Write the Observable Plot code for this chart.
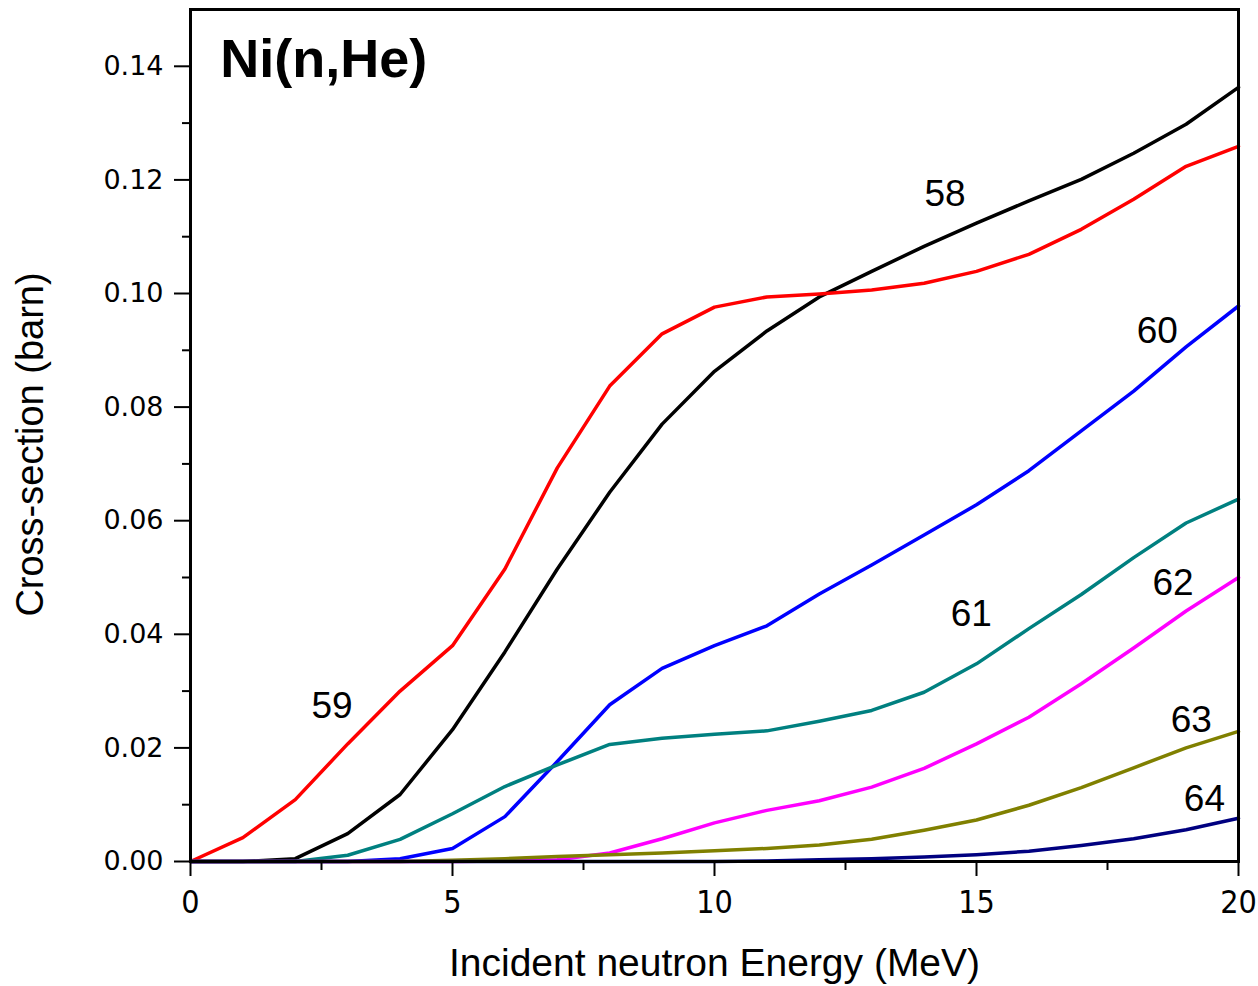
<!DOCTYPE html>
<html>
<head>
<meta charset="utf-8">
<script src="https://cdn.jsdelivr.net/npm/d3@7"></script>
<script src="https://cdn.jsdelivr.net/npm/@observablehq/plot@0.6"></script>
<style>
  html, body { margin: 0; padding: 0; background: #fff; }
  #chart { width: 1258px; height: 986px; }
</style>
</head>
<body>
<div id="chart"></div>
<script>
// ---- data ----
const energy = [0,1,2,3,4,5,6,7,8,9,10,11,12,13,14,15,16,17,18,19,20];
const ni58 = [0,0,0.0005,0.0049,0.0118,0.0232,0.0369,0.0515,0.065,0.077,0.0863,0.0934,0.0994,0.1039,0.1083,0.1124,0.1163,0.1201,0.1247,0.1298,0.1363];
const ni59 = [0,0.0042,0.0109,0.0207,0.030,0.038,0.0515,0.0693,0.0837,0.0929,0.0976,0.0994,0.0999,0.1006,0.1018,0.1039,0.1069,0.1113,0.1166,0.1224,0.1259];
const ni60 = [0,0,0,0,0.0005,0.0023,0.0079,0.0176,0.0276,0.034,0.038,0.0415,0.0471,0.0522,0.0575,0.0628,0.0688,0.0758,0.0828,0.0906,0.0978];
const ni61 = [0,0,0,0.0011,0.0039,0.0084,0.0132,0.017,0.0206,0.0217,0.0224,0.023,0.0247,0.0266,0.0298,0.0348,0.041,0.047,0.0535,0.0596,0.0638];
const ni62 = [0,0,0,0,0,0,0.0001,0.0003,0.0015,0.004,0.0068,0.009,0.0107,0.0131,0.0164,0.0207,0.0254,0.0313,0.0376,0.0441,0.05];
const ni63 = [0,0,0,0,0,0.0002,0.0005,0.0009,0.0012,0.0015,0.0019,0.0023,0.0029,0.0039,0.0055,0.0073,0.0099,0.013,0.0165,0.020,0.0229];
const ni64 = [0,0,0,0,0,0,0,0,0,0,0,0.0001,0.0003,0.0005,0.0008,0.0012,0.0018,0.0028,0.004,0.0056,0.0076];

const seriesNames = ["58","59","60","61","62","63","64"];
const seriesValues = [ni58, ni59, ni60, ni61, ni62, ni63, ni64];
const seriesColors = ["#000000","#ff0000","#0000ff","#008080","#ff00ff","#808000","#000080"];

const labelText = ["58","59","60","61","62","63","64"];
const labelX = [14.4, 2.7, 18.45, 14.9, 18.75, 19.1, 19.35];
const labelY = [0.1175, 0.0274, 0.0934, 0.0436, 0.049, 0.0248, 0.0109];

const yTicks = [0,0.02,0.04,0.06,0.08,0.10,0.12,0.14];
const yMinor = [0.01,0.03,0.05,0.07,0.09,0.11,0.13];
const xTicks = [0,5,10,15,20];
const xMinor = [2.5,7.5,12.5,17.5];

const title = "Ni(n,He)";
const xLabel = "Incident neutron Energy (MeV)";
const yLabel = "Cross-section (barn)";

// ---- build table ----
const rows = [];
seriesNames.forEach((s, i) => {
  energy.forEach((e, j) => rows.push({series: s, E: e, sigma: seriesValues[i][j]}));
});
const labels = labelText.map((t, i) => ({t, x: labelX[i], y: labelY[i]}));

const font = "Arial, 'Liberation Sans', sans-serif";

const chart = Plot.plot({
  width: 1258,
  height: 986,
  marginLeft: 190,
  marginRight: 20,
  marginTop: 9,
  marginBottom: 125,
  style: {fontFamily: font, background: "#fff", color: "#000"},
  x: {domain: [0, 20]},
  y: {domain: [0, 0.15]},
  color: {domain: seriesNames, range: seriesColors},
  marks: [
    Plot.line(rows, {x: "E", y: "sigma", z: "series", stroke: "series", strokeWidth: 3.5, strokeLinejoin: "round"}),
    Plot.frame({stroke: "#000", strokeWidth: 3}),
    Plot.axisY({ticks: yTicks, tickSize: 16, tickPadding: 11, tickFormat: d3.format(".2f"), fontSize: 27, fontFamily: "'DejaVu Sans', sans-serif", label: null, strokeWidth: 2}),
    Plot.axisY({ticks: yMinor, tickSize: 8, text: null, label: null, strokeWidth: 2}),
    Plot.axisX({ticks: xTicks, tickSize: 15, tickPadding: 14, tickFormat: d3.format("d"), fontSize: 32, fontFamily: "'Liberation Sans Narrow', 'DejaVu Sans Condensed', Arial, sans-serif", label: null, strokeWidth: 2}),
    Plot.axisX({ticks: xMinor, tickSize: 9, text: null, label: null, strokeWidth: 2}),
    Plot.text(labels, {x: "x", y: "y", text: "t", fontSize: 37, fill: "#000"}),
    Plot.text([title], {x: () => 0.57, y: () => 0.1412, text: d => d, textAnchor: "start", fontSize: 54, fontWeight: "bold", fill: "#000"}),
    Plot.text([yLabel], {frameAnchor: "left", textAnchor: "middle", text: d => d, rotate: -90, dx: -160, dy: 9, fontSize: 38, fill: "#000"}),
    Plot.text([xLabel], {frameAnchor: "bottom", textAnchor: "middle", text: d => d, dy: 114, fontSize: 39, fill: "#000"})
  ]
});
document.getElementById("chart").appendChild(chart);
</script>
</body>
</html>
